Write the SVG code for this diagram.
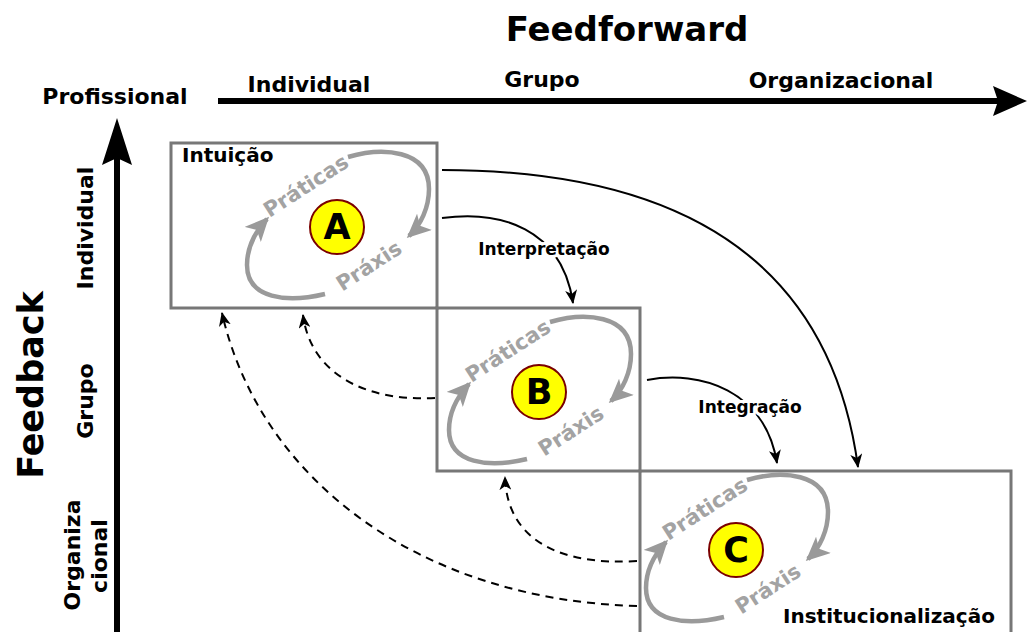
<svg xmlns="http://www.w3.org/2000/svg" width="1027" height="632" viewBox="0 0 1027 632">
<style>
text{font-family:"DejaVu Sans","Liberation Sans",sans-serif;font-weight:bold;}
.box{fill:none;stroke:#777;stroke-width:3;}
.cyc{fill:none;stroke:#9a9a9a;stroke-width:4.5;}
.ctext{fill:#a3a3a3;font-size:21px;text-anchor:middle;}
.circ{fill:#ffff00;stroke:#7a0000;stroke-width:2;}
.letter{font-size:35px;text-anchor:middle;fill:#000;}
.ff{fill:none;stroke:#000;stroke-width:2;}
.fb{fill:none;stroke:#000;stroke-width:2;stroke-dasharray:8 6;}
.lbl{font-size:17px;text-anchor:middle;fill:#000;stroke:#fff;stroke-width:6;paint-order:stroke;stroke-linejoin:round;}
.axis{font-size:22px;fill:#000;}
</style>
<defs>
<marker id="ga" viewBox="0 0 24 22" refX="21" refY="11" markerWidth="24" markerHeight="22" markerUnits="userSpaceOnUse" orient="auto">
<path d="M0,0 L24,11 L0,22 L6,11 z" fill="#9a9a9a"/>
</marker>
<marker id="ba" viewBox="0 0 14 12" refX="13" refY="6" markerWidth="14" markerHeight="12" markerUnits="userSpaceOnUse" orient="auto">
<path d="M0,0 L14,6 L0,12 L4,6 z" fill="#000"/>
</marker>
</defs>
<rect width="1027" height="632" fill="#fff"/>

<g id="axes">
<text x="627" y="41" font-size="34" text-anchor="middle">Feedforward</text>
<text class="axis" x="115" y="104" text-anchor="middle">Profissional</text>
<text class="axis" x="309" y="92" text-anchor="middle">Individual</text>
<text class="axis" x="542" y="87" text-anchor="middle">Grupo</text>
<text class="axis" x="841" y="88" text-anchor="middle">Organizacional</text>
<line x1="218" y1="101" x2="1000" y2="101" stroke="#000" stroke-width="6"/>
<polygon points="1027,101 993,86 998,101 993,116" fill="#000"/>
<line x1="117" y1="632" x2="117" y2="150" stroke="#000" stroke-width="6"/>
<polygon points="117,118 102,165 117,158 132,165" fill="#000"/>
<text transform="translate(43,385) rotate(-90)" font-size="35" text-anchor="middle">Feedback</text>
<text class="axis" transform="translate(93,228) rotate(-90)" text-anchor="middle">Individual</text>
<text class="axis" transform="translate(93,401) rotate(-90)" text-anchor="middle">Grupo</text>
<text class="axis" transform="translate(80,555) rotate(-90)" text-anchor="middle">Organiza</text>
<text class="axis" transform="translate(107,556) rotate(-90)" text-anchor="middle">cional</text>
</g>

<g id="node-A">
<rect class="box" x="171" y="143" width="266" height="165"/>
<text x="182" y="162" font-size="20">Intuição</text>
<g transform="translate(337,227)">
<path class="cyc" d="M11,-70 C45,-80 92,-78 92,-38 C92,-20 84,-2 72,9" marker-end="url(#ga)"/>
<path class="cyc" d="M-12,67 C-50,76 -90,72 -90,38 C-90,20 -82,5 -70,-8" marker-end="url(#ga)"/>
<text class="ctext" transform="translate(-31,-41) rotate(-33)" y="7">Práticas</text>
<text class="ctext" transform="translate(32,39) rotate(-33)" y="7">Práxis</text>
<circle class="circ" r="27"/>
<text class="letter" y="12">A</text>
</g>
</g>

<g id="node-B">
<rect class="box" x="437" y="308" width="203" height="163"/>
<g transform="translate(539,392)">
<path class="cyc" d="M11,-70 C45,-80 92,-78 92,-38 C92,-20 84,-2 72,9" marker-end="url(#ga)"/>
<path class="cyc" d="M-12,67 C-50,76 -90,72 -90,38 C-90,20 -82,5 -70,-8" marker-end="url(#ga)"/>
<text class="ctext" transform="translate(-31,-41) rotate(-33)" y="7">Práticas</text>
<text class="ctext" transform="translate(32,39) rotate(-33)" y="7">Práxis</text>
<circle class="circ" r="27"/>
<text class="letter" y="12">B</text>
</g>
</g>

<g id="node-C">
<rect class="box" x="640" y="471" width="371" height="175"/>
<text x="783" y="623" font-size="20">Institucionalização</text>
<g transform="translate(736,550)">
<path class="cyc" d="M11,-70 C45,-80 92,-78 92,-38 C92,-20 84,-2 72,9" marker-end="url(#ga)"/>
<path class="cyc" d="M-12,67 C-50,76 -90,72 -90,38 C-90,20 -82,5 -70,-8" marker-end="url(#ga)"/>
<text class="ctext" transform="translate(-31,-41) rotate(-33)" y="7">Práticas</text>
<text class="ctext" transform="translate(32,39) rotate(-33)" y="7">Práxis</text>
<circle class="circ" r="27"/>
<text class="letter" y="12">C</text>
</g>
</g>

<g id="connectors">
<path class="ff" d="M442,170 C680,170 830,260 858,467" marker-end="url(#ba)"/>
<path class="ff" d="M442,218 C500,210 562,228 573,303" marker-end="url(#ba)"/>
<text class="lbl" x="544" y="255">Interpretação</text>
<path class="ff" d="M647,380 C700,370 765,390 777,463" marker-end="url(#ba)"/>
<text class="lbl" x="750" y="413">Integração</text>
<path class="fb" d="M637,561 C560,566 507,540 505,477" marker-end="url(#ba)"/>
<path class="fb" d="M435,398 C360,402 310,370 303,315" marker-end="url(#ba)"/>
<path class="fb" d="M637,606 C420,600 260,480 222,313" marker-end="url(#ba)"/>
</g>
</svg>
